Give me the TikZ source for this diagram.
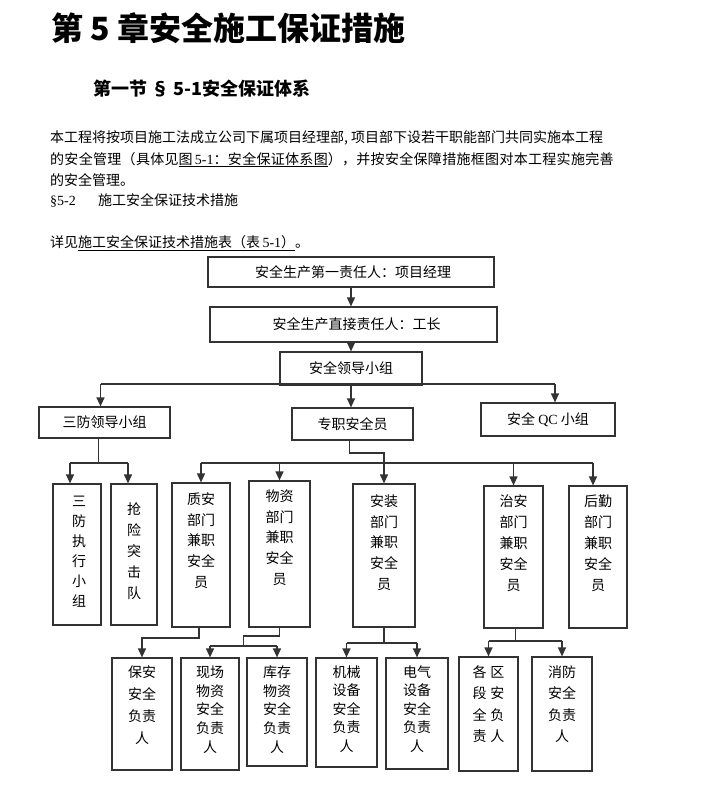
\documentclass[tikz,border=0pt]{standalone}
\usepackage{fontspec}
\setmainfont{Liberation Serif}
\newfontfamily\cjk{Noto Sans CJK SC}
\newfontfamily\latf{Liberation Serif}
\usetikzlibrary{arrows.meta,fit,calc}
\begin{document}
\begin{tikzpicture}[x=1pt,y=-1pt,
  box/.style={draw=black!80,line width=1.2pt,inner sep=0pt},
  ln/.style={draw=black!80,line width=1.2pt},
  arr/.style={ln,-{Triangle[length=9pt,width=8pt]}},
  txt/.style={font=\fontsize{14}{16}\cjk,inner sep=0pt},
  vt/.style={font=\fontsize{14}{#1}\cjk,align=center,anchor=north,inner sep=0pt},
  ptxt/.style={font=\fontsize{14}{16}\cjk,anchor=base west,inner sep=0pt}]
\fill[white] (0,0) rectangle (703,785);
\useasboundingbox (0,0) rectangle (703,785);

% headings
\node[anchor=base west,inner sep=0pt,font=\fontsize{32}{36}\cjk\bfseries] (title) at (51,40) {第 5 章安全施工保证措施};
\node[anchor=base west,inner sep=0pt,font=\fontsize{18}{20}\cjk\bfseries] (sub) at (93,95) {第一节 § 5-1安全保证体系};

% paragraph
\node[ptxt] (p1) at (50,142) {本工程将按项目施工法成立公司下属项目经理部, 项目部下设若干职能部门共同实施本工程};
\node[ptxt] (p2) at (50,164) {\addfontfeature{LetterSpace=2.2}的安全管理（具体见\underline{图{\latf\,5-1}：安全保证体系图}），并按安全保障措施框图对本工程实施完善};
\node[ptxt] (p3) at (50,185) {的安全管理。};
\node[ptxt] (p4) at (50,205) {\makebox[48pt][l]{\latf §5-2}施工安全保证技术措施};
\node[ptxt] (p5) at (50,247) {详见\underline{施工安全保证技术措施表（表{\latf\,5-1}）}。};

% boxes
\node[box,fit={(208,257)(494,287)}] (A) {};
\node[box,fit={(210,307)(497,342)}] (B) {};
\node[box,fit={(280,352)(422,385)}] (C) {};
\node[box,fit={(39,407)(170,438)}] (D) {};
\node[box,fit={(292,408)(413,440)}] (E) {};
\node[box,fit={(481,403)(615,436)}] (F) {};
\node[box,fit={(53,484)(101,625)}] (G1) {};
\node[box,fit={(111,484)(157,625)}] (G2) {};
\node[box,fit={(172,483)(230,627)}] (H1) {};
\node[box,fit={(249,481)(310,627)}] (H2) {};
\node[box,fit={(353,484)(415,627)}] (K3) {};
\node[box,fit={(484,486)(543,628)}] (K4) {};
\node[box,fit={(569,486)(627,628)}] (K5) {};
\node[box,fit={(112,658)(172,770)}] (J1) {};
\node[box,fit={(181,658)(239,770)}] (J2) {};
\node[box,fit={(247,658)(307,766)}] (J3) {};
\node[box,fit={(316,658)(377,767)}] (J4) {};
\node[box,fit={(386,658)(448,769)}] (J5) {};
\node[box,fit={(459,657)(518,771)}] (J6) {};
\node[box,fit={(532,657)(592,771)}] (J7) {};

% box texts
\node[txt] (tA) at ([xshift=2pt]A.center) {安全生产第一责任人：项目经理};
\node[txt] (tB) at ([xshift=3pt]B.center) {安全生产直接责任人：工长};
\node[txt] (tC) at (C.center) {安全领导小组};
\node[txt] (tD) at (D.center) {三防领导小组};
\node[txt] (tE) at (E.center) {专职安全员};
\node[txt] (tF) at (F.center) {安全 {\latf QC} 小组};

\node[vt=20] (tG1) at ([xshift=2pt,yshift=-12pt]G1.north) {三\\防\\执\\行\\小\\组};
\node[vt=21] (tG2) at ([yshift=-19pt]G2.north) {抢\\险\\突\\击\\队};
\node[vt=20.7] (tH1) at ([yshift=-10pt]H1.north) {质安\\部门\\兼职\\安全\\员};
\node[vt=20.7] (tH2) at ([yshift=-9pt]H2.north) {物资\\部门\\兼职\\安全\\员};
\node[vt=20.7] (tK3) at ([yshift=-11pt]K3.north) {安装\\部门\\兼职\\安全\\员};
\node[vt=21] (tK4) at ([yshift=-9pt]K4.north) {治安\\部门\\兼职\\安全\\员};
\node[vt=21] (tK5) at ([yshift=-9pt]K5.north) {后勤\\部门\\兼职\\安全\\员};
\node[vt=22] (tJ1) at ([yshift=-8pt]J1.north) {保安\\安全\\负责\\人};
\node[vt=18.8] (tJ2) at ([yshift=-8pt]J2.north) {现场\\物资\\安全\\负责\\人};
\node[vt=18.8] (tJ3) at ([yshift=-8pt]J3.north) {库存\\物资\\安全\\负责\\人};
\node[vt=18.5] (tJ4) at ([yshift=-8pt]J4.north) {机械\\设备\\安全\\负责\\人};
\node[vt=18.5] (tJ5) at ([yshift=-8pt]J5.north) {电气\\设备\\安全\\负责\\人};
\node[vt=21.5] (tJ6) at ([yshift=-9pt]J6.north) {各\hspace{4pt}区\\段\hspace{4pt}安\\全\hspace{4pt}负\\责\hspace{4pt}人};
\node[vt=21.5] (tJ7) at ([yshift=-9pt]J7.north) {消防\\安全\\负责\\人};

% connectors: top chain
\draw[arr] (A.south) -- (A.south |- B.north);
\draw[arr] (A.south |- B.south) -- (A.south |- C.north);
\coordinate (busC) at (0,384);
\coordinate (dA) at ([xshift=-4pt]D.north);
\coordinate (fA) at ([xshift=7pt]F.north);
\draw[ln] (dA |- busC) -- (fA |- busC);
\draw[arr] (dA |- busC) -- (dA);
\draw[arr] (fA |- busC) -- (fA);
\draw[arr] (C.south) -- (C.south |- E.north);

% D children
\coordinate (busD) at (0,463);
\coordinate (dS) at ([xshift=-6pt]D.south);
\coordinate (g1a) at ([xshift=-7pt]G1.north);
\coordinate (g2a) at ([xshift=-6pt]G2.north);
\draw[ln] (dS) -- (dS |- busD);
\draw[ln] (g1a |- busD) -- (g2a |- busD);
\draw[arr] (g1a |- busD) -- (g1a);
\draw[arr] (g2a |- busD) -- (g2a);

% E children
\coordinate (busE1) at (0,453);
\coordinate (busE) at (0,463);
\coordinate (eS) at ([xshift=-3pt]E.south);
\draw[arr] (eS) -- (eS |- busE1) -| (K3.north);
\coordinate (k5a) at ([xshift=-5pt]K5.north);
\draw[ln] (H1.north |- busE) -- (k5a |- busE);
\foreach \n in {H1,H2,K4} \draw[arr] (\n.north |- busE) -- (\n.north);
\draw[arr] (k5a |- busE) -- (k5a);

% H1 -> J1
\coordinate (busH1) at (0,638);
\coordinate (h1s) at ([xshift=-2pt]H1.south);
\draw[arr] (h1s) -- (h1s |- busH1) -| (J1.north);

% H2 -> J2, J3
\coordinate (busH2a) at (0,636);
\coordinate (busH2) at (0,646);
\coordinate (m23) at ($(J2.north)!0.5!(J3.north)$);
\draw[ln] (H2.south) -- (H2.south |- busH2a) -| (m23 |- busH2);
\draw[ln] (J2.north |- busH2) -- (J3.north |- busH2);
\draw[arr] (J2.north |- busH2) -- (J2.north);
\draw[arr] (J3.north |- busH2) -- (J3.north);

% K3 -> J4, J5
\coordinate (busK3) at (0,643);
\draw[ln] (K3.south) -- (K3.south |- busK3);
\draw[ln] (J4.north |- busK3) -- (J5.north |- busK3);
\draw[arr] (J4.north |- busK3) -- (J4.north);
\draw[arr] (J5.north |- busK3) -- (J5.north);

% K4 -> J6, J7
\coordinate (busK4) at (0,641);
\coordinate (k4s) at ([xshift=2pt]K4.south);
\draw[ln] (k4s) -- (k4s |- busK4);
\draw[ln] (J6.north |- busK4) -- (J7.north |- busK4);
\draw[arr] (J6.north |- busK4) -- (J6.north);
\draw[arr] (J7.north |- busK4) -- (J7.north);
\end{tikzpicture}
\end{document}
